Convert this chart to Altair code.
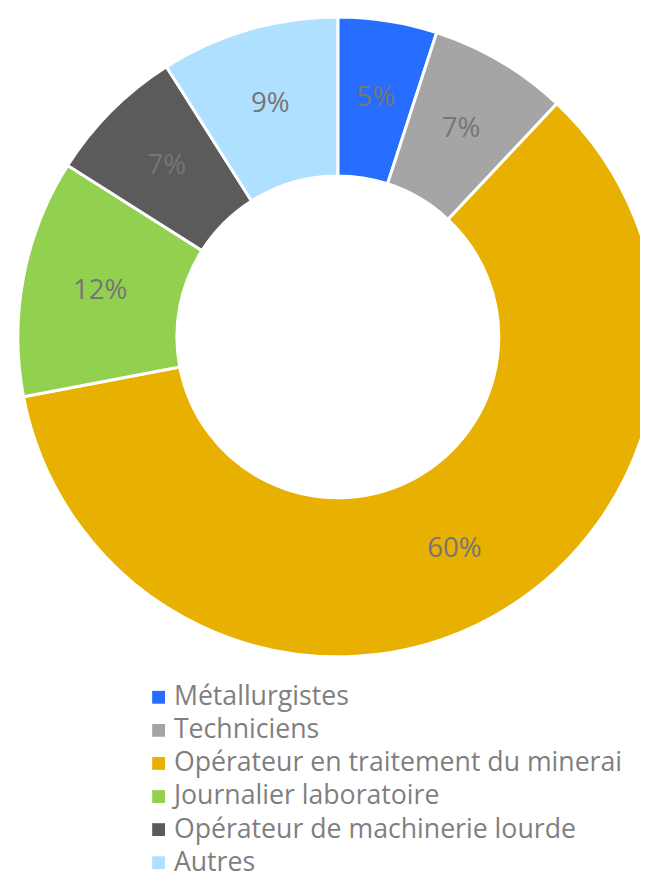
import altair as alt
import pandas as pd

categories = ["Métallurgistes", "Techniciens", "Opérateur en traitement du minerai",
              "Journalier laboratoire", "Opérateur de machinerie lourde", "Autres"]
values = [5, 7, 60, 12, 7, 9]
labels = ["5%", "7%", "60%", "12%", "7%", "9%"]
colors = ["#276DFF", "#A5A5A5", "#E8B000", "#92D050", "#5B5B5B", "#B0E0FF"]

df = pd.DataFrame({"cat": categories, "val": values, "lab": labels, "idx": list(range(len(values)))})

CX, CY = 334, 327.5
base = alt.Chart(df).encode(
    theta=alt.Theta("val:Q", stack=True),
    order=alt.Order("idx:Q"),
)

arcs = base.mark_arc(radius=324, radius2=163, stroke="white", strokeWidth=3).encode(
    x=alt.value(CX), y=alt.value(CY),
    color=alt.Color("cat:N", sort=categories,
                    scale=alt.Scale(domain=categories, range=colors),
                    legend=alt.Legend(title=None, orient="none", legendX=139, legendY=679,
                                      symbolType="square", symbolSize=169,
                                      labelFont="Open Sans", labelFontSize=27,
                                      labelColor="#7F7F7F", rowPadding=5.5,
                                      labelOffset=2,
                                      labelLimit=600, symbolStrokeWidth=0)),
)

text = base.mark_text(radius=245, font="Open Sans", fontSize=28, color="#767676").encode(
    x=alt.value(CX), y=alt.value(CY),
    text="lab:N",
)

chart = alt.layer(arcs, text).properties(
    width=640, height=871, padding=0, background="white",
    autosize=alt.AutoSizeParams(type="none"),
).configure_view(stroke=None)

chart.save("out.html", embed_options={"renderer": "svg", "actions": False})
